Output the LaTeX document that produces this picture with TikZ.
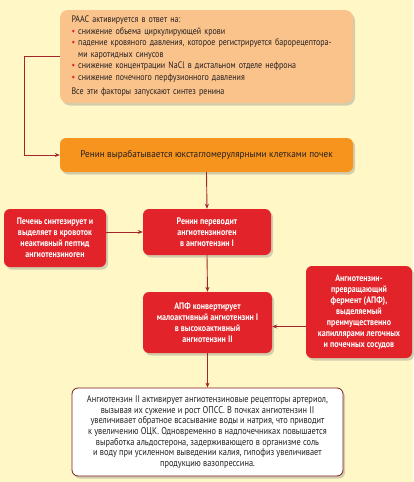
\documentclass[tikz,border=0pt]{standalone}
\usepackage{fontspec}
\setmainfont{PT Sans}[FakeStretch=0.85]
\newfontfamily\widefont{PT Sans}[FakeStretch=0.95]
\usetikzlibrary{shadows,arrows.meta}
\definecolor{bgy}{HTML}{FFF8C6}
\definecolor{topor}{HTML}{FAC38C}
\definecolor{midor}{HTML}{F7941E}
\definecolor{rbred}{HTML}{E2232A}
\definecolor{lnred}{HTML}{A3262A}
\definecolor{botrd}{HTML}{7A1C1C}
\definecolor{txt}{HTML}{231F20}
\newcommand\bul{\textcolor{rbred}{\textbullet}\ }
\begin{document}
\begin{tikzpicture}[x=1pt,y=-1pt,
  box/.style={rounded corners=6pt, inner sep=0pt, align=center,
    drop shadow={opacity=0.35,shadow xshift=2pt,shadow yshift=-2.5pt}},
  redbox/.style={box, fill=rbred, text=white, font=\bfseries\fontsize{9.4}{11}\selectfont},
  conn/.style={draw=lnred, line width=0.9pt, -{Stealth[length=5pt,width=4pt]}}]
\fill[bgy] (0,0) rectangle (413,482);
\useasboundingbox (0,0) rectangle (413,482);
\node[box, fill=topor, text=txt, minimum width=293, minimum height=93, text width=270, align=left,
  font=\fontsize{9.4}{11.5}\selectfont, rounded corners=8pt] (top) at (206.5,56.5) {%
РААС активируется в ответ на:\\
\bul снижение объема циркулирующей крови\\
\bul падение кровяного давления, которое регистрируется барорецептора-\\
\phantom{\bul}ми каротидных синусов\\
\bul снижение концентрации NaCl в дистальном отделе нефрона\\
\bul снижение почечного перфузионного давления\\[3pt]
Все эти факторы запускают синтез ренина};
\node[box, fill=midor, text=txt, minimum width=293, minimum height=34,
  font=\widefont\fontsize{9.7}{11}\selectfont] (renin) at (206.5,155) {Ренин вырабатывается юкстагломерулярными клетками почек};
\node[redbox, minimum width=102, minimum height=58] (liver) at (55,238) {Печень синтезирует и\\выделяет в кровоток\\неактивный пептид\\ангиотензиноген};
\node[redbox, minimum width=128, minimum height=46] (conv) at (207,232) {Ренин переводит\\ангиотензиноген\\в ангиотензин I};
\node[redbox, minimum width=106, minimum height=92] (ace) at (359,312) {Ангиотензин-\\превращающий\\фермент (АПФ),\\выделяемый\\преимущественно\\капиллярами легочных\\и почечных сосудов};
\node[redbox, minimum width=129, minimum height=61] (apf) at (207.5,322.5) {АПФ конвертирует\\малоактивный ангиотензин I\\в высокоактивный\\ангиотензин II};
\node[box, fill=white, draw=botrd, line width=0.8pt, text=txt, minimum width=271, minimum height=88,
  font=\fontsize{9.8}{10.6}\selectfont] (eff) at (207.5,432) {Ангиотензин II активирует ангиотензиновые рецепторы артериол,\\
вызывая их сужение и рост ОПСС. В почках ангиотензин II\\
увеличивает обратное всасывание воды и натрия, что приводит\\
к увеличению ОЦК. Одновременно в надпочечниках повышается\\
выработка альдостерона, задерживающего в организме соль\\
и воду при усиленном выведении калия, гипофиз увеличивает\\
продукцию вазопрессина.};
\draw[conn] (top.west) -- ++(-35,0) |- (renin.west);
\draw[conn] (renin.south) -- (conv.north);
\draw[conn] (liver.east |- conv.west) -- (conv.west);
\draw[conn] (conv.south) -- (apf.north);
\draw[conn] ([yshift=-4pt]ace.west |- apf.east) -- ([yshift=-4pt]apf.east);
\draw[conn] (apf.south) -- (eff.north);
\end{tikzpicture}
\end{document}
